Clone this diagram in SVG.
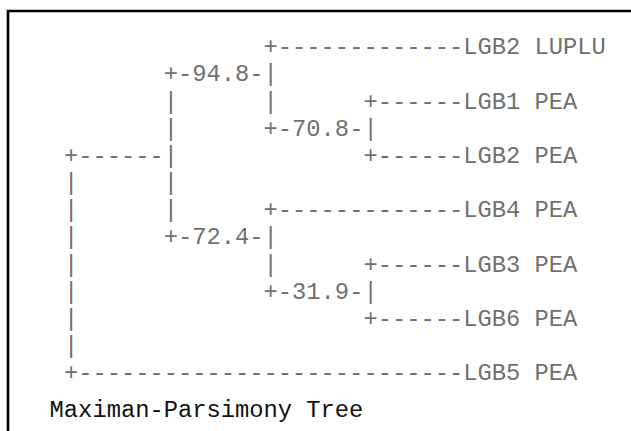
<svg xmlns="http://www.w3.org/2000/svg" width="631" height="431" viewBox="0 0 631 431">
<style>
text{font-family:"Courier New","Liberation Mono",monospace;font-size:23.77px;white-space:pre}
.t{fill:#707070}
.title{fill:#111}
</style>
<rect width="631" height="431" fill="#fff"/>
<path d="M8,431 V11 H631" fill="none" stroke="#000" stroke-width="2.6"/>
<g id="connectors" class="t">
<text x="263.57" y="54.3">+-------------</text>
<text x="163.73" y="81.45">+-</text><text x="249.31" y="81.45">-|</text>
<text x="163.73" y="108.6">|</text><text x="263.57" y="108.6">|</text><text x="363.4" y="108.6">+------</text>
<text x="163.73" y="135.75">|</text><text x="263.57" y="135.75">+-</text><text x="349.14" y="135.75">-|</text>
<text x="63.9" y="162.9">+------|</text><text x="363.4" y="162.9">+------</text>
<text x="63.9" y="190.05">|</text><text x="163.73" y="190.05">|</text>
<text x="63.9" y="217.2">|</text><text x="163.73" y="217.2">|</text><text x="263.57" y="217.2">+-------------</text>
<text x="63.9" y="244.35">|</text><text x="163.73" y="244.35">+-</text><text x="249.31" y="244.35">-|</text>
<text x="63.9" y="271.5">|</text><text x="263.57" y="271.5">|</text><text x="363.4" y="271.5">+------</text>
<text x="63.9" y="298.65">|</text><text x="263.57" y="298.65">+-</text><text x="349.14" y="298.65">-|</text>
<text x="63.9" y="325.8">|</text><text x="363.4" y="325.8">+------</text>
<text x="63.9" y="352.95">|</text>
<text x="63.9" y="380.1">+---------------------------</text>
</g>
<g id="node-94.8" class="t"><text x="192.26" y="81.45">94.8</text></g>
<g id="node-70.8" class="t"><text x="292.09" y="135.75">70.8</text></g>
<g id="node-72.4" class="t"><text x="192.26" y="244.35">72.4</text></g>
<g id="node-31.9" class="t"><text x="292.09" y="298.65">31.9</text></g>
<g id="leaf-LGB2-LUPLU" class="t"><text x="463.24" y="54.3">LGB2 LUPLU</text></g>
<g id="leaf-LGB1-PEA" class="t"><text x="463.24" y="108.6">LGB1 PEA</text></g>
<g id="leaf-LGB2-PEA" class="t"><text x="463.24" y="162.9">LGB2 PEA</text></g>
<g id="leaf-LGB4-PEA" class="t"><text x="463.24" y="217.2">LGB4 PEA</text></g>
<g id="leaf-LGB3-PEA" class="t"><text x="463.24" y="271.5">LGB3 PEA</text></g>
<g id="leaf-LGB6-PEA" class="t"><text x="463.24" y="325.8">LGB6 PEA</text></g>
<g id="leaf-LGB5-PEA" class="t"><text x="463.24" y="380.1">LGB5 PEA</text></g>
<g id="title"><text class="title" x="49.6" y="416.7">Maximan-Parsimony Tree</text></g>
</svg>
